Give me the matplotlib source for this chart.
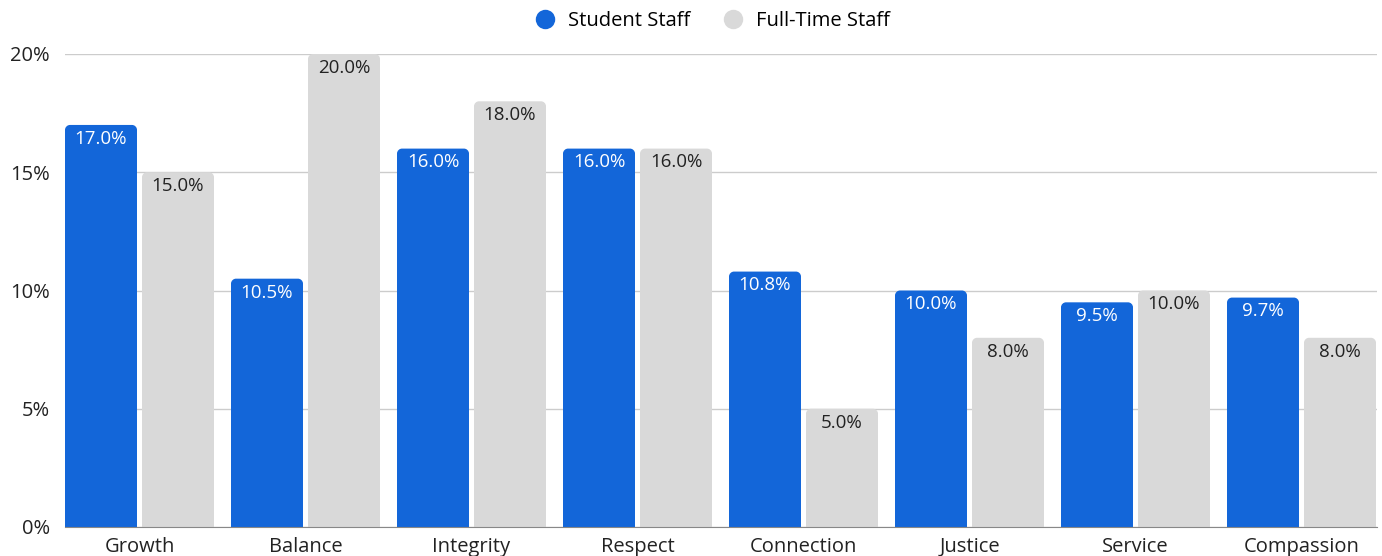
import matplotlib.pyplot as plt
import numpy as np
from matplotlib.path import Path
from matplotlib.patches import PathPatch
from matplotlib.lines import Line2D

plt.rcParams['font.family'] = ['Open Sans', 'DejaVu Sans']

categories = ["Growth", "Balance", "Integrity", "Respect", "Connection",
              "Justice", "Service", "Compassion"]
student = [17.0, 10.5, 16.0, 16.0, 10.8, 10.0, 9.5, 9.7]
fulltime = [15.0, 20.0, 18.0, 16.0, 5.0, 8.0, 10.0, 8.0]
yticks = [0, 5, 10, 15, 20]

BLUE = "#1366D9"
GRAY = "#D9D9D9"

fig = plt.figure(figsize=(13.82, 5.56), dpi=100)
ax = fig.add_axes([65 / 1382, 1 - 527 / 556, 1312 / 1382, 473 / 556])

x = np.arange(len(categories))
w = 72 / 166
off = 38.5 / 166
rx = 5 / 166
ry = 5 * 20 / 473


def rounded_bar(cx, h, color):
    l, r = cx - w / 2, cx + w / 2
    k = 0.45
    verts = [(l, 0), (l, h - ry), (l, h - ry * k), (l + rx * k, h), (l + rx, h),
             (r - rx, h), (r - rx * k, h), (r, h - ry * k), (r, h - ry),
             (r, 0), (l, 0)]
    codes = [Path.MOVETO, Path.LINETO, Path.CURVE4, Path.CURVE4, Path.CURVE4,
             Path.LINETO, Path.CURVE4, Path.CURVE4, Path.CURVE4,
             Path.LINETO, Path.CLOSEPOLY]
    ax.add_patch(PathPatch(Path(verts, codes), facecolor=color,
                           edgecolor="none", zorder=3))


for i in range(len(categories)):
    rounded_bar(x[i] - off, student[i], BLUE)
    rounded_bar(x[i] + off, fulltime[i], GRAY)
    ax.annotate(f"{student[i]:.1f}%", (x[i] - off, student[i]),
                xytext=(0, -3.5), textcoords="offset points", ha="center",
                va="top", color="white", fontsize=13.5, zorder=4)
    ax.annotate(f"{fulltime[i]:.1f}%", (x[i] + off, fulltime[i]),
                xytext=(0, -3.5), textcoords="offset points", ha="center",
                va="top", color="#222222", fontsize=13.5, zorder=4)

ax.set_xlim(-74.5 / 166, len(categories) - 1 + 75.5 / 166)
ax.set_ylim(0, 20)
ax.set_yticks(yticks)
ax.set_yticklabels([f"{t}%" for t in yticks])
ax.set_xticks(x)
ax.set_xticklabels(categories)
ax.tick_params(length=0, labelsize=14.5, colors="#222222")
ax.tick_params(axis="y", pad=11)
ax.tick_params(axis="x", pad=7)
ax.grid(axis="y", color="#CCCCCC", linewidth=1, zorder=0)
for s in ["top", "right", "left"]:
    ax.spines[s].set_visible(False)
ax.spines["bottom"].set_color("#888888")
ax.spines["bottom"].set_zorder(5)

handles = [Line2D([], [], marker="o", linestyle="none", markersize=14,
                  markerfacecolor=BLUE, markeredgecolor="none"),
           Line2D([], [], marker="o", linestyle="none", markersize=14,
                  markerfacecolor=GRAY, markeredgecolor="none")]
fig.legend(handles, ["Student Staff", "Full-Time Staff"], loc="center",
           bbox_to_anchor=(0.512, 1 - 21 / 556), ncol=2, frameon=False,
           fontsize=14.5, handletextpad=0.15, columnspacing=1.1)

fig.savefig("out.png", dpi=100)
